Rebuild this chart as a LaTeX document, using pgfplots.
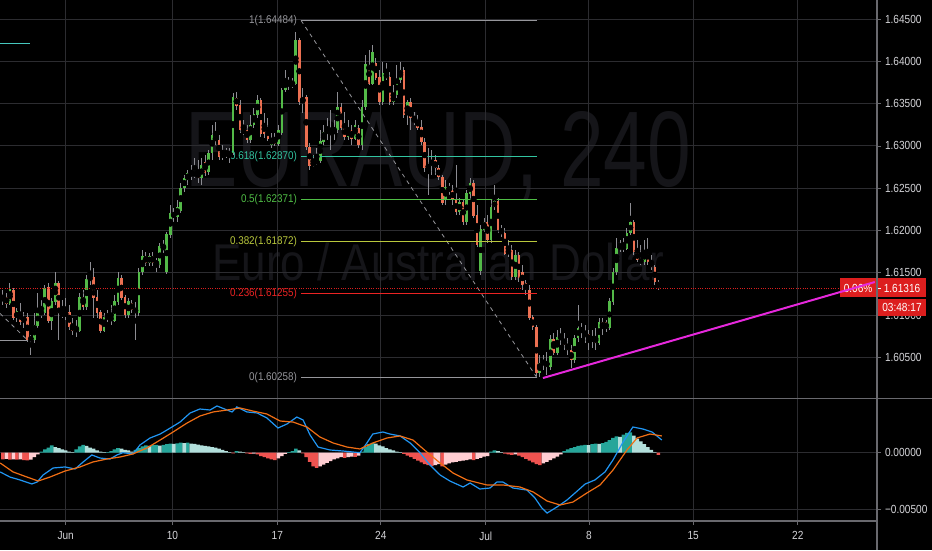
\documentclass[border=0pt]{standalone}
\usepackage{fontspec}
\setmainfont{Liberation Sans}
\usepackage{graphicx}
\usepackage{pgfplots}
\usepackage{pgfplotstable}
\pgfplotsset{compat=1.18}

\definecolor{gridc}{RGB}{44,44,48}
\definecolor{linec}{RGB}{105,105,110}
\definecolor{lbl}{RGB}{212,212,216}
\definecolor{wm}{RGB}{21,21,25}
\definecolor{upc}{RGB}{83,186,72}
\definecolor{dnc}{RGB}{236,112,82}
\definecolor{wickc}{RGB}{140,140,146}
\definecolor{fibgray}{RGB}{150,150,155}
\definecolor{fib618}{RGB}{50,196,160}
\definecolor{fib5}{RGB}{80,190,70}
\definecolor{fib382}{RGB}{185,200,60}
\definecolor{fib236}{RGB}{235,35,35}
\definecolor{pricered}{RGB}{220,30,30}
\definecolor{trendc}{RGB}{230,40,220}
\definecolor{tealc}{RGB}{70,200,190}
\definecolor{macdc}{RGB}{33,150,243}
\definecolor{sigc}{RGB}{240,110,20}
\definecolor{h1}{RGB}{38,166,154}
\definecolor{h2}{RGB}{178,223,219}
\definecolor{h3}{RGB}{239,83,80}
\definecolor{h4}{RGB}{255,205,210}

\newcommand\ticklbl{\fontsize{8.8}{10}\selectfont}
\newcommand\fiblbl{\fontsize{8.4}{10}\selectfont}
% narrow the labels a little, as the chart's own font is condensed
\newcommand\nl[1]{\scalebox{0.86}[1]{#1}}
\newcommand\fl[1]{\scalebox{0.88}[1]{#1}}

% EURAUD 4h candles, x = bar index (0 = 3 Jun)
\pgfplotstableread{
i o h l c
-18 1.6118 1.6130 1.6112 1.6121
-17 1.6121 1.6126 1.6108 1.6114
-16 1.6114 1.6138 1.6112 1.6130
-15 1.6130 1.6132 1.6094 1.6097
-14 1.6097 1.6108 1.6092 1.6104
-13 1.6104 1.6114 1.6088 1.6092
-12 1.6092 1.6104 1.6085 1.6098
-11 1.6098 1.6103 1.6068 1.6071
-10 1.6071 1.6077 1.6053 1.6073
-9 1.6071 1.6103 1.6067 1.6088
-8 1.6088 1.6126 1.6085 1.6104
-7 1.6106 1.6118 1.6097 1.6100
-6 1.6103 1.6136 1.6100 1.6132
-5 1.6133 1.6138 1.6091 1.6094
-4 1.6094 1.6120 1.6082 1.6116
-3 1.6116 1.6151 1.6112 1.6138
-2 1.6138 1.6140 1.6071 1.6103
-1 1.6103 1.6118 1.6097 1.6100
0 1.6100 1.6120 1.6094 1.6103
1 1.6103 1.6112 1.6082 1.6086
2 1.6088 1.6097 1.6077 1.6082
3 1.6086 1.6094 1.6074 1.6080
4 1.6082 1.6126 1.6080 1.6121
5 1.6121 1.6130 1.6106 1.6110
6 1.6110 1.6147 1.6106 1.6142
7 1.6142 1.6163 1.6136 1.6145
8 1.6145 1.6156 1.6097 1.6121
9 1.6121 1.6130 1.6097 1.6103
10 1.6103 1.6106 1.6079 1.6082
11 1.6082 1.6103 1.6080 1.6097
12 1.6097 1.6106 1.6092 1.6099
13 1.6098 1.6112 1.6088 1.6094
14 1.6094 1.6124 1.6092 1.6116
15 1.6116 1.6151 1.6112 1.6144
16 1.6144 1.6147 1.6118 1.6121
17 1.6121 1.6124 1.6097 1.6100
18 1.6100 1.6120 1.6097 1.6116
19 1.6114 1.6118 1.6103 1.6106
20 1.6108 1.6116 1.6071 1.6103
21 1.6103 1.6156 1.6099 1.6151
22 1.6151 1.6177 1.6147 1.6169
23 1.6169 1.6175 1.6158 1.6162
24 1.6162 1.6173 1.6158 1.6169
25 1.6169 1.6175 1.6158 1.6162
26 1.6163 1.6168 1.6151 1.6160
27 1.6160 1.6185 1.6156 1.6181
28 1.6183 1.6189 1.6173 1.6177
29 1.6151 1.6198 1.6149 1.6195
30 1.6195 1.6230 1.6191 1.6221
31 1.6221 1.6227 1.6210 1.6216
32 1.6216 1.6236 1.6210 1.6227
33 1.6224 1.6256 1.6221 1.6250
34 1.6250 1.6266 1.6246 1.6262
35 1.6260 1.6272 1.6254 1.6268
36 1.6266 1.6277 1.6260 1.6268
37 1.6266 1.6286 1.6262 1.6268
38 1.6269 1.6283 1.6256 1.6262
39 1.6262 1.6286 1.6254 1.6277
40 1.6281 1.6289 1.6264 1.6268
41 1.6269 1.6295 1.6266 1.6292
42 1.6292 1.6325 1.6283 1.6313
43 1.6311 1.6328 1.6301 1.6307
44 1.6307 1.6313 1.6283 1.6287
45 1.6287 1.6301 1.6283 1.6292
46 1.6292 1.6298 1.6286 1.6289
47 1.6289 1.6298 1.6280 1.6293
48 1.6292 1.6363 1.6289 1.6357
49 1.6357 1.6364 1.6342 1.6348
50 1.6348 1.6354 1.6315 1.6319
51 1.6319 1.6331 1.6313 1.6316
52 1.6319 1.6325 1.6303 1.6307
53 1.6307 1.6337 1.6303 1.6325
54 1.6325 1.6345 1.6321 1.6337
55 1.6337 1.6360 1.6333 1.6354
56 1.6354 1.6357 1.6311 1.6315
57 1.6325 1.6339 1.6309 1.6315
58 1.6321 1.6333 1.6306 1.6309
59 1.6301 1.6315 1.6298 1.6309
60 1.6309 1.6315 1.6300 1.6303
61 1.6303 1.6325 1.6300 1.6319
62 1.6316 1.6368 1.6313 1.6366
63 1.6366 1.6390 1.6364 1.6378
64 1.6378 1.6381 1.6366 1.6372
65 1.6372 1.6380 1.6368 1.6374
66 1.6374 1.6435 1.6372 1.6425
67 1.6425 1.6428 1.6348 1.6352
68 1.6352 1.6368 1.6339 1.6357
69 1.6358 1.6360 1.6295 1.6299
70 1.6299 1.6303 1.6272 1.6277
71 1.6277 1.6289 1.6275 1.6281
72 1.6280 1.6298 1.6277 1.6283
73 1.6283 1.6319 1.6280 1.6305
74 1.6305 1.6325 1.6301 1.6316
75 1.6316 1.6333 1.6307 1.6319
76 1.6319 1.6342 1.6295 1.6313
77 1.6315 1.6331 1.6307 1.6319
78 1.6319 1.6364 1.6315 1.6346
79 1.6346 1.6351 1.6319 1.6322
80 1.6322 1.6340 1.6307 1.6311
81 1.6311 1.6331 1.6307 1.6319
82 1.6319 1.6325 1.6301 1.6309
83 1.6309 1.6331 1.6307 1.6325
84 1.6321 1.6325 1.6298 1.6301
85 1.6301 1.6354 1.6295 1.6346
86 1.6346 1.6407 1.6342 1.6396
87 1.6396 1.6413 1.6372 1.6374
88 1.6374 1.6419 1.6372 1.6411
89 1.6398 1.6404 1.6378 1.6381
90 1.6381 1.6390 1.6348 1.6352
91 1.6352 1.6399 1.6348 1.6386
92 1.6386 1.6398 1.6378 1.6381
93 1.6381 1.6387 1.6348 1.6352
94 1.6352 1.6372 1.6348 1.6360
95 1.6360 1.6396 1.6357 1.6378
96 1.6378 1.6399 1.6374 1.6390
97 1.6390 1.6393 1.6333 1.6337
98 1.6337 1.6354 1.6325 1.6352
99 1.6352 1.6357 1.6319 1.6333
100 1.6333 1.6340 1.6325 1.6328
101 1.6331 1.6337 1.6319 1.6322
102 1.6322 1.6331 1.6301 1.6305
103 1.6305 1.6309 1.6269 1.6274
104 1.6274 1.6298 1.6242 1.6277
105 1.6277 1.6295 1.6266 1.6283
106 1.6283 1.6289 1.6266 1.6274
107 1.6274 1.6277 1.6260 1.6263
108 1.6263 1.6266 1.6230 1.6233
109 1.6236 1.6260 1.6230 1.6251
110 1.6251 1.6256 1.6242 1.6248
111 1.6248 1.6254 1.6230 1.6236
112 1.6236 1.6277 1.6218 1.6222
113 1.6222 1.6238 1.6218 1.6233
114 1.6233 1.6236 1.6207 1.6210
115 1.6210 1.6248 1.6207 1.6244
116 1.6244 1.6262 1.6236 1.6256
117 1.6256 1.6260 1.6215 1.6218
118 1.6218 1.6230 1.6181 1.6183
119 1.6153 1.6207 1.6147 1.6201
120 1.6201 1.6215 1.6198 1.6210
121 1.6210 1.6218 1.6185 1.6189
122 1.6189 1.6236 1.6185 1.6228
123 1.6228 1.6254 1.6224 1.6234
124 1.6234 1.6238 1.6197 1.6201
125 1.6201 1.6207 1.6192 1.6197
126 1.6197 1.6203 1.6171 1.6173
127 1.6173 1.6189 1.6169 1.6177
128 1.6177 1.6183 1.6142 1.6145
129 1.6145 1.6177 1.6142 1.6171
130 1.6171 1.6175 1.6139 1.6144
131 1.6151 1.6159 1.6130 1.6136
132 1.6138 1.6142 1.6124 1.6130
133 1.6130 1.6136 1.6094 1.6097
134 1.6097 1.6100 1.6082 1.6086
135 1.6086 1.6088 1.6028 1.6032
136 1.6032 1.6053 1.6027 1.6043
137 1.6043 1.6053 1.6035 1.6045
138 1.6045 1.6056 1.6029 1.6039
139 1.6039 1.6077 1.6035 1.6071
140 1.6071 1.6079 1.6053 1.6056
141 1.6056 1.6082 1.6053 1.6074
142 1.6073 1.6085 1.6065 1.6074
143 1.6071 1.6079 1.6059 1.6065
144 1.6065 1.6073 1.6053 1.6059
145 1.6059 1.6065 1.6038 1.6047
146 1.6047 1.6077 1.6043 1.6073
147 1.6073 1.6112 1.6068 1.6085
148 1.6085 1.6091 1.6073 1.6080
149 1.6080 1.6088 1.6067 1.6077
150 1.6077 1.6082 1.6059 1.6071
151 1.6071 1.6082 1.6061 1.6073
152 1.6073 1.6085 1.6059 1.6068
153 1.6068 1.6097 1.6065 1.6092
154 1.6092 1.6097 1.6077 1.6085
155 1.6091 1.6094 1.6080 1.6085
156 1.6085 1.6120 1.6082 1.6116
157 1.6116 1.6156 1.6112 1.6151
158 1.6151 1.6191 1.6147 1.6179
159 1.6179 1.6189 1.6175 1.6182
160 1.6182 1.6191 1.6175 1.6179
161 1.6179 1.6203 1.6177 1.6197
162 1.6197 1.6233 1.6195 1.6210
163 1.6210 1.6212 1.6171 1.6175
164 1.6175 1.6189 1.6163 1.6165
165 1.6165 1.6183 1.6159 1.6163
166 1.6163 1.6189 1.6159 1.6175
167 1.6175 1.6191 1.6159 1.6163
168 1.6163 1.6171 1.6153 1.6157
169 1.6157 1.6159 1.6136 1.6139
170 1.6139 1.6142 1.6130 1.6132
}\candles

% MACD histogram, k: 1 rising above 0, 2 falling above 0, 3 falling below 0, 4 rising below 0
\pgfplotstableread{
i h k
-18 -0.00060 3
-17 -0.00055 4
-16 -0.00062 3
-15 -0.00058 4
-14 -0.00062 3
-13 -0.00060 4
-12 -0.00065 3
-11 -0.00068 3
-10 -0.00062 4
-9 -0.00040 4
-8 -0.00015 4
-7 0.00010 1
-6 0.00030 1
-5 0.00045 1
-4 0.00065 1
-3 0.00050 2
-2 0.00040 2
-1 0.00030 2
0 0.00020 2
1 0.00010 2
2 0.00005 2
3 0.00030 1
4 0.00055 1
5 0.00070 1
6 0.00060 2
7 0.00045 2
8 0.00035 2
9 0.00020 2
10 0.00010 2
11 0.00005 2
12 0.00005 1
13 0.00015 1
14 0.00030 1
15 0.00040 1
16 0.00035 2
17 0.00025 2
18 0.00020 2
19 0.00010 2
20 0.00025 1
21 0.00040 1
22 0.00055 1
23 0.00065 1
24 0.00060 2
25 0.00068 1
26 0.00070 1
27 0.00062 2
28 0.00070 1
29 0.00075 1
30 0.00080 1
31 0.00078 2
32 0.00082 1
33 0.00088 1
34 0.00085 2
35 0.00090 1
36 0.00080 2
37 0.00078 2
38 0.00072 2
39 0.00065 2
40 0.00060 2
41 0.00055 2
42 0.00050 2
43 0.00045 2
44 0.00035 2
45 0.00025 2
46 0.00015 2
47 0.00005 2
48 -0.00005 3
49 0.00015 1
50 0.00010 2
51 0.00005 2
52 -0.00005 3
53 -0.00010 3
54 -0.00008 4
55 -0.00015 3
56 -0.00030 3
57 -0.00040 3
58 -0.00050 3
59 -0.00058 3
60 -0.00065 3
61 -0.00050 4
62 -0.00030 4
63 -0.00010 4
64 0.00005 1
65 0.00015 1
66 0.00035 1
67 0.00020 2
68 -0.00005 3
69 -0.00040 3
70 -0.00080 3
71 -0.00120 3
72 -0.00135 3
73 -0.00120 4
74 -0.00105 4
75 -0.00090 4
76 -0.00075 4
77 -0.00060 4
78 -0.00050 4
79 -0.00040 4
80 -0.00045 3
81 -0.00040 4
82 -0.00035 4
83 -0.00038 3
84 -0.00025 4
85 0.00010 1
86 0.00050 1
87 0.00075 1
88 0.00086 1
89 0.00080 2
90 0.00065 2
91 0.00055 2
92 0.00040 2
93 0.00030 2
94 0.00020 2
95 0.00010 2
96 0.00005 2
97 -0.00010 3
98 -0.00025 3
99 -0.00040 3
100 -0.00055 3
101 -0.00070 3
102 -0.00085 3
103 -0.00100 3
104 -0.00110 3
105 -0.00118 3
106 -0.00110 4
107 -0.00100 4
108 -0.00120 3
109 -0.00105 4
110 -0.00095 4
111 -0.00085 4
112 -0.00080 4
113 -0.00075 4
114 -0.00070 4
115 -0.00065 4
116 -0.00060 4
117 -0.00065 3
118 -0.00055 4
119 -0.00045 4
120 -0.00035 4
121 -0.00030 4
122 0.00010 1
123 0.00020 1
124 0.00015 2
125 0.00005 2
126 -0.00008 3
127 -0.00015 3
128 -0.00020 3
129 -0.00015 4
130 -0.00025 3
131 -0.00040 3
132 -0.00055 3
133 -0.00070 3
134 -0.00085 3
135 -0.00100 3
136 -0.00110 3
137 -0.00095 4
138 -0.00080 4
139 -0.00065 4
140 -0.00050 4
141 -0.00035 4
142 -0.00015 4
143 0.00015 1
144 0.00030 1
145 0.00040 1
146 0.00050 1
147 0.00060 1
148 0.00065 1
149 0.00070 1
150 0.00068 2
151 0.00075 1
152 0.00080 1
153 0.00078 2
154 0.00085 1
155 0.00095 1
156 0.00110 1
157 0.00130 1
158 0.00145 1
159 0.00140 2
160 0.00160 1
161 0.00175 1
162 0.00180 1
163 0.00150 2
164 0.00125 2
165 0.00100 2
166 0.00075 2
167 0.00050 2
168 0.00025 2
169 0.00005 2
170 -0.00020 3
}\hist

\pgfplotstableread{
i m
-18.8 -0.00170
-16.0 -0.00215
-13.1 -0.00241
-9.7 -0.00276
-8.2 -0.00259
-6.5 -0.00197
-3.6 -0.00135
-0.2 -0.00126
2.7 -0.00144
5.0 -0.00082
7.5 -0.00020
9.8 -0.00047
12.7 -0.00056
14.7 -0.00020
16.4 0.00000
19.3 -0.00011
21.3 0.00068
24.2 0.00130
27.1 0.00165
30.0 0.00218
32.8 0.00271
35.7 0.00351
38.5 0.00386
41.4 0.00377
43.4 0.00413
46.3 0.00377
47.7 0.00360
49.1 0.00404
52.0 0.00360
54.9 0.00351
57.7 0.00307
60.9 0.00218
63.5 0.00254
66.3 0.00315
68.1 0.00289
70.1 0.00156
72.4 0.00050
75.8 0.00024
79.5 0.00015
82.4 0.00006
84.4 0.00000
86.4 0.00086
88.1 0.00165
91.0 0.00183
93.0 0.00165
95.9 0.00148
98.8 0.00086
101.6 0.00000
104.5 -0.00109
107.4 -0.00197
110.2 -0.00250
114.0 -0.00303
116.0 -0.00268
118.8 -0.00321
121.7 -0.00312
123.7 -0.00259
125.4 -0.00259
128.3 -0.00312
132.3 -0.00330
134.6 -0.00400
136.6 -0.00489
138.1 -0.00533
140.9 -0.00480
143.8 -0.00418
146.1 -0.00356
149.0 -0.00277
151.8 -0.00241
154.7 -0.00170
157.0 -0.00064
159.9 0.00095
162.7 0.00227
165.6 0.00209
168.2 0.00183
171.0 0.00112
}\macd

\pgfplotstableread{
i s
-18.8 -0.00091
-15.1 -0.00170
-11.1 -0.00215
-7.9 -0.00250
-4.5 -0.00215
-0.2 -0.00162
4.1 -0.00126
7.8 -0.00082
11.8 -0.00056
15.6 -0.00038
19.3 -0.00011
23.3 0.00042
27.1 0.00112
30.8 0.00183
34.8 0.00262
38.5 0.00324
42.3 0.00360
46.3 0.00377
50.0 0.00395
53.7 0.00368
57.7 0.00342
61.5 0.00280
65.2 0.00271
69.2 0.00227
72.9 0.00139
76.7 0.00086
80.7 0.00050
84.4 0.00033
88.1 0.00086
92.2 0.00130
95.9 0.00148
99.6 0.00112
103.6 0.00006
107.4 -0.00091
111.1 -0.00179
115.1 -0.00241
120.8 -0.00285
125.4 -0.00285
130.3 -0.00303
134.1 -0.00347
138.1 -0.00427
141.8 -0.00462
145.5 -0.00436
149.5 -0.00356
153.3 -0.00285
157.0 -0.00153
161.0 0.00024
163.9 0.00130
167.6 0.00165
171.0 0.00148
}\signal

\pgfplotsset{
  chartbase/.style={
    scale only axis, width=657.75pt,
    xmin=-18.85, xmax=232.73,
    axis line style={draw=none},
    xtick={0,30.6,60.7,90.4,120.5,150.1,180,210},
    scaled x ticks=false, scaled y ticks=false,
    ytick pos=right, yticklabel pos=right, tick align=outside,
    major tick length=3pt,
    major y tick style={draw=linec, line width=0.6pt},
    yticklabel style={font=\ticklbl, text=lbl, xshift=-0.5pt},
    xmajorgrids, ymajorgrids,
    major grid style={draw=gridc, line width=0.75pt},
  },
}

\begin{document}
\begin{tikzpicture}
\path[use as bounding box, fill=black] (0,0) rectangle (699pt,412.5pt);

% watermark
\begin{scope}[x=0.75pt, y=-0.75pt, shift={(0pt,412.5pt)}]
\node[anchor=base west, inner sep=0, text=wm] at (185,187)
  {\scalebox{0.73}[1]{\fontsize{80.6}{81}\selectfont EURAUD, 240}};
\node[anchor=base west, inner sep=0, text=wm] at (212,281)
  {\scalebox{0.85}[1]{\fontsize{38.8}{39}\selectfont Euro / Australian Dollar}};
\end{scope}

% price panel
\begin{axis}[chartbase,
  at={(0pt,114pt)}, anchor=south west, height=298.5pt,
  ymin=1.60020, ymax=1.64725,
  xticklabels={}, major x tick style={draw=none},
  ytick={1.605,1.610,1.615,1.620,1.625,1.630,1.635,1.640,1.645},
  yticklabels={\nl{1.60500},\nl{1.61000},\nl{1.61500},\nl{1.62000},\nl{1.62500},\nl{1.63000},\nl{1.63500},\nl{1.64000},\nl{1.64500}},
  clip=false,
]
% wicks
\addplot[only marks, mark=none, error bars/.cd, y dir=both, y explicit, error mark=none,
  error bar style={draw=wickc, line width=0.7pt}]
  table[x=i, y expr={(\thisrow{h}+\thisrow{l})/2}, y error expr={(\thisrow{h}-\thisrow{l})/2}] {\candles};
% bodies up
\addplot[only marks, mark=none, error bars/.cd, y dir=both, y explicit, error mark=none,
  error bar style={draw=upc, line width=2pt}]
  table[x=i, y expr={\thisrow{c}>=\thisrow{o} ? (\thisrow{o}+\thisrow{c})/2 : nan},
        y error expr={abs(\thisrow{c}-\thisrow{o})/2+0.00003}] {\candles};
% bodies down
\addplot[only marks, mark=none, error bars/.cd, y dir=both, y explicit, error mark=none,
  error bar style={draw=dnc, line width=2pt}]
  table[x=i, y expr={\thisrow{c}<\thisrow{o} ? (\thisrow{o}+\thisrow{c})/2 : nan},
        y error expr={abs(\thisrow{c}-\thisrow{o})/2+0.00003}] {\candles};

% fibonacci retracement
\draw[fibgray, dash pattern=on 3pt off 3pt, line width=0.6pt] (axis cs:67.5,1.64484) -- (axis cs:135.2,1.60258);
\draw[fibgray, line width=0.75pt] (axis cs:67.5,1.64484) -- (axis cs:135.2,1.64484);
\draw[fib618, line width=0.75pt] (axis cs:67.5,1.62870) -- (axis cs:135.2,1.62870);
\draw[fib5, line width=0.75pt] (axis cs:67.5,1.62371) -- (axis cs:135.2,1.62371);
\draw[fib382, line width=0.75pt] (axis cs:67.5,1.61872) -- (axis cs:135.2,1.61872);
\draw[fib236, line width=0.75pt] (axis cs:67.5,1.61255) -- (axis cs:135.2,1.61255);
\draw[fibgray, line width=0.75pt] (axis cs:67.5,1.60258) -- (axis cs:135.2,1.60258);
\begin{scope}[every node/.style={anchor=east, inner sep=0pt, font=\fiblbl}]
\node[text=fibgray] at (axis cs:66.4,1.64484) {\fl{1(1.64484)}};
\node[text=fib618] at (axis cs:66.4,1.62870) {\fl{0.618(1.62870)}};
\node[text=fib5] at (axis cs:66.4,1.62371) {\fl{0.5(1.62371)}};
\node[text=fib382] at (axis cs:66.4,1.61872) {\fl{0.382(1.61872)}};
\node[text=fib236] at (axis cs:66.4,1.61255) {\fl{0.236(1.61255)}};
\node[text=fibgray] at (axis cs:66.4,1.60258) {\fl{0(1.60258)}};
\end{scope}

% older drawings at the left edge
\draw[tealc, line width=0.75pt] (axis cs:-18.85,1.64216) -- (axis cs:-10.2,1.64216);
\draw[fibgray, line width=0.75pt] (axis cs:-18.85,1.60694) -- (axis cs:-11.1,1.60694);
\draw[fibgray, dash pattern=on 3pt off 3pt, line width=0.6pt] (axis cs:-18.85,1.6102) -- (axis cs:-11.1,1.6071);

% last price line
\addplot[pricered, densely dotted, line width=0.75pt] coordinates {(-18.85,1.61316) (232.73,1.61316)};

% price labels
\fill[pricered] (axis cs:222.1,1.61438) rectangle (axis cs:246.8,1.61214);
\fill[pricered] (axis cs:233.0,1.61196) rectangle (axis cs:246.8,1.60990);
\draw[white, line width=0.6pt] (axis cs:232.73,1.61316) -- (axis cs:233.9,1.61316);
\node[white, font=\ticklbl, inner sep=0pt] at (axis cs:227.3,1.61316) {\nl{0.06\%}};
\node[white, font=\ticklbl, inner sep=0pt, anchor=west] at (axis cs:234.6,1.61316) {\nl{1.61316}};
\node[white, font=\ticklbl, inner sep=0pt] at (axis cs:239.9,1.61093) {\nl{03:48:17}};

% trend line
\addplot[trendc, line width=1.5pt] coordinates {(136.9,1.60256) (232.1,1.61391)};
\end{axis}

% MACD panel
\begin{axis}[chartbase,
  at={(0pt,21.75pt)}, anchor=south west, height=91.5pt,
  ymin=-0.006034, ymax=0.004744,
  xticklabels={\nl{Jun},\nl{10},\nl{17},\nl{24},\nl{Jul},\nl{8},\nl{15},\nl{22}},
  xtick pos=bottom, major x tick style={draw=linec, line width=0.6pt},
  xticklabel style={font=\ticklbl, text=lbl, yshift=-1.5pt},
  ytick={-0.005,0}, yticklabels={\nl{−0.00500},\nl{0.00000}},
]
\addplot[ybar, bar width=1.02, bar shift=0pt, fill=h1, draw=none]
  table[x=i, y expr={\thisrow{k}==1 ? \thisrow{h} : nan}] {\hist};
\addplot[ybar, bar width=1.02, bar shift=0pt, fill=h2, draw=none]
  table[x=i, y expr={\thisrow{k}==2 ? \thisrow{h} : nan}] {\hist};
\addplot[ybar, bar width=1.02, bar shift=0pt, fill=h3, draw=none]
  table[x=i, y expr={\thisrow{k}==3 ? \thisrow{h} : nan}] {\hist};
\addplot[ybar, bar width=1.02, bar shift=0pt, fill=h4, draw=none]
  table[x=i, y expr={\thisrow{k}==4 ? \thisrow{h} : nan}] {\hist};
\addplot[macdc, line width=0.9pt, mark=none] table[x=i, y=m] {\macd};
\addplot[sigc, line width=0.9pt, mark=none] table[x=i, y=s] {\signal};
\end{axis}

% panel borders
\begin{scope}[x=0.75pt, y=-0.75pt, shift={(0pt,412.5pt)}]
\draw[linec, line width=0.9pt] (0,398.5) -- (932,398.5);
\draw[linec, line width=0.9pt] (0,521) -- (877,521);
\draw[linec, line width=0.9pt] (877,0) -- (877,550);
\end{scope}
\end{tikzpicture}
\end{document}
